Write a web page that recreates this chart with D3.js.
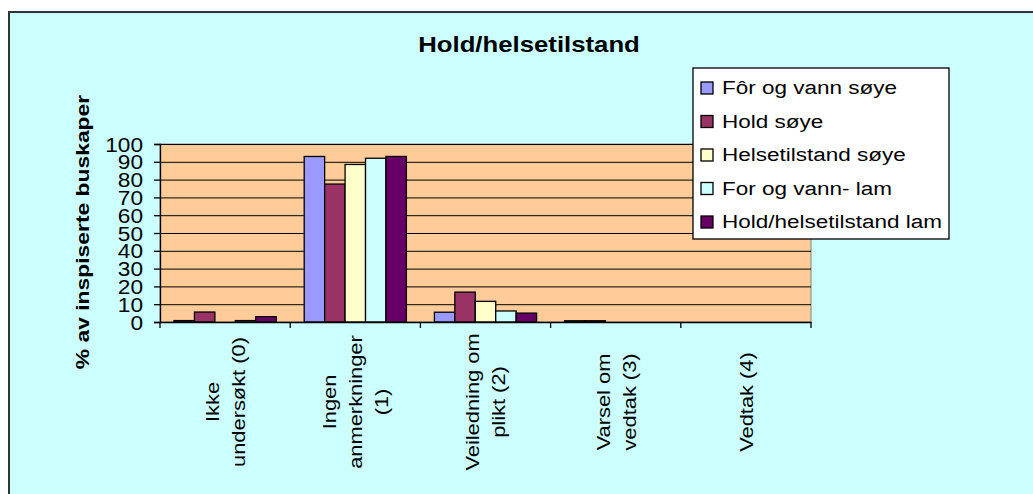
<!DOCTYPE html>
<html>
<head>
<meta charset="utf-8">
<script src="https://cdn.jsdelivr.net/npm/d3@7"></script>
<style>
	body { margin: 0; background: #ffffff; }
	svg { display: block; font-family: "Liberation Sans", Arial, sans-serif; }
</style>
</head>
<body>
<div id="chart"></div>
<script>
let categories	= ["Ikke undersøkt (0)", "Ingen anmerkninger (1)", "Veiledning om plikt (2)", "Varsel om vedtak (3)", "Vedtak (4)"];
let catLines	= [["Ikke", "undersøkt (0)"], ["Ingen", "anmerkninger", "(1)"], ["Veiledning om", "plikt (2)"], ["Varsel om", "vedtak (3)"], ["Vedtak (4)"]];
let seriesNames	= ["Fôr og vann søye", "Hold søye", "Helsetilstand søye", "For og vann- lam", "Hold/helsetilstand lam"];
let forVannSoye	= [0.8, 93, 5.5, 0.7, 0];
let holdSoye	= [5.6, 77.5, 16.8, 0.7, 0];
let helseSoye	= [0, 88.5, 11.6, 0, 0];
let forVannLam	= [0.8, 92, 6.2, 0, 0];
let holdHelseLam	= [3, 93, 5, 0, 0];
let yTicks		= [0, 10, 20, 30, 40, 50, 60, 70, 80, 90, 100];
let colors		= ["#9999FF", "#993366", "#FFFFCC", "#CCFFFF", "#660066"];

let seriesValues = [forVannSoye, holdSoye, helseSoye, forVannLam, holdHelseLam];

let W = 1033, H = 494;
let plot = { left: 160, right: 811, top: 144, bottom: 322 };

let svg = d3.select("#chart").append("svg")
	.attr("width", W)
	.attr("height", H);

// chart area
svg.append("rect")
	.attr("x", 9).attr("y", 12)
	.attr("width", W + 20).attr("height", H + 20)
	.attr("fill", "#CCFFFF")
	.attr("stroke", "#333333")
	.attr("stroke-width", 2);

// text is drawn a bit wider than normal, like the original
function stretch(sel, x, y, k, rot) {
	sel.attr("transform", "translate(" + x + "," + y + ")" + (rot ? " rotate(" + rot + ")" : "") + " scale(" + k + ",1)");
}

svg.append("text")
	.attr("text-anchor", "middle")
	.attr("font-size", 22)
	.attr("font-weight", "bold")
	.text("Hold/helsetilstand")
	.call(stretch, 529, 52, 1.17);

let x0 = d3.scaleBand().domain(categories).range([plot.left, plot.right]);
let x1 = d3.scaleBand().domain(seriesNames).range([0, x0.bandwidth()]).paddingOuter(0.685);
let y  = d3.scaleLinear().domain([0, 100]).range([plot.bottom, plot.top]);

svg.append("rect")
	.attr("x", plot.left).attr("y", plot.top)
	.attr("width", plot.right - plot.left).attr("height", plot.bottom - plot.top)
	.attr("fill", "#FFCC99")
	.attr("stroke", "#808080")
	.attr("stroke-width", 1);

svg.append("g")
	.attr("class", "grid")
	.attr("transform", "translate(" + plot.left + ",0)")
	.call(d3.axisLeft(y).tickValues(yTicks).tickSize(-(plot.right - plot.left)).tickFormat(""))
	.call(g => g.select(".domain").remove())
	.call(g => g.selectAll("line").attr("stroke", "#000").attr("stroke-width", 1));

// bars
let groups = svg.selectAll(".group")
	.data(categories)
	.enter().append("g")
		.attr("class", "group")
		.attr("transform", (c) => "translate(" + x0(c) + ",0)");

groups.selectAll("rect")
	.data((c, i) => seriesNames.map((s, j) => ({ s: s, j: j, v: seriesValues[j][i] })).filter((o) => o.v > 0))
	.enter().append("rect")
		.attr("x", (o) => x1(o.s))
		.attr("width", x1.bandwidth())
		.attr("y", (o) => y(o.v))
		.attr("height", (o) => y(0) - y(o.v))
		.attr("fill", (o) => colors[o.j])
		.attr("stroke", "#000")
		.attr("stroke-width", 1.3);

// y axis
let yAxis = svg.append("g")
	.attr("transform", "translate(" + plot.left + ",0)")
	.call(d3.axisLeft(y).tickValues(yTicks).tickSize(6).tickPadding(4));
yAxis.selectAll("path, line").attr("stroke", "#000").attr("stroke-width", 1.3);
yAxis.selectAll("text").remove();

svg.selectAll(".ylab")
	.data(yTicks)
	.enter().append("text")
		.attr("class", "ylab")
		.attr("text-anchor", "end")
		.attr("dy", "0.36em")
		.attr("font-size", 21)
		.text((d) => d)
		.each(function (d) { stretch(d3.select(this), 143, y(d), 1.08); });

// x axis
let xAxis = svg.append("g")
	.attr("transform", "translate(0," + plot.bottom + ")")
	.call(d3.axisBottom(x0).tickSize(0).tickFormat(""));
xAxis.select(".domain").attr("stroke", "#000").attr("stroke-width", 1.3);

svg.selectAll(".xtick")
	.data(d3.range(categories.length + 1))
	.enter().append("line")
		.attr("class", "xtick")
		.attr("x1", (i) => plot.left + i * x0.step())
		.attr("x2", (i) => plot.left + i * x0.step())
		.attr("y1", plot.bottom)
		.attr("y2", plot.bottom + 6)
		.attr("stroke", "#000")
		.attr("stroke-width", 1.3);

let lineGap = 26;
categories.forEach((c, i) => {
	let lines = catLines[i];
	let cx = x0(c) + x0.bandwidth() / 2;
	lines.forEach((t, k) => {
		svg.append("text")
			.attr("text-anchor", "middle")
			.attr("dy", "0.36em")
			.attr("font-size", 19)
			.text(t)
			.call(stretch, cx + (k - (lines.length - 1) / 2) * lineGap, 402, 1.15, -90);
	});
});

// y title
svg.append("text")
	.attr("text-anchor", "middle")
	.attr("font-size", 18)
	.attr("font-weight", "bold")
	.text("% av inspiserte buskaper")
	.call(stretch, 89, 232, 1.27, -90);

// legend
let legend = svg.append("g");
legend.append("rect")
	.attr("x", 693).attr("y", 68)
	.attr("width", 256).attr("height", 171)
	.attr("fill", "#fff")
	.attr("stroke", "#000")
	.attr("stroke-width", 1.3);

let rowY = d3.scalePoint().domain(seriesNames).range([88, 222]);

legend.selectAll(".sw")
	.data(seriesNames)
	.enter().append("rect")
		.attr("class", "sw")
		.attr("x", 701)
		.attr("y", (s) => rowY(s) - 6)
		.attr("width", 12).attr("height", 12)
		.attr("fill", (s, i) => colors[i])
		.attr("stroke", "#000")
		.attr("stroke-width", 1.3);

legend.selectAll(".lt")
	.data(seriesNames)
	.enter().append("text")
		.attr("class", "lt")
		.attr("dy", "0.36em")
		.attr("font-size", 18)
		.text((s) => s)
		.each(function (s) { stretch(d3.select(this), 722, rowY(s), 1.25); });
</script>
</body>
</html>
